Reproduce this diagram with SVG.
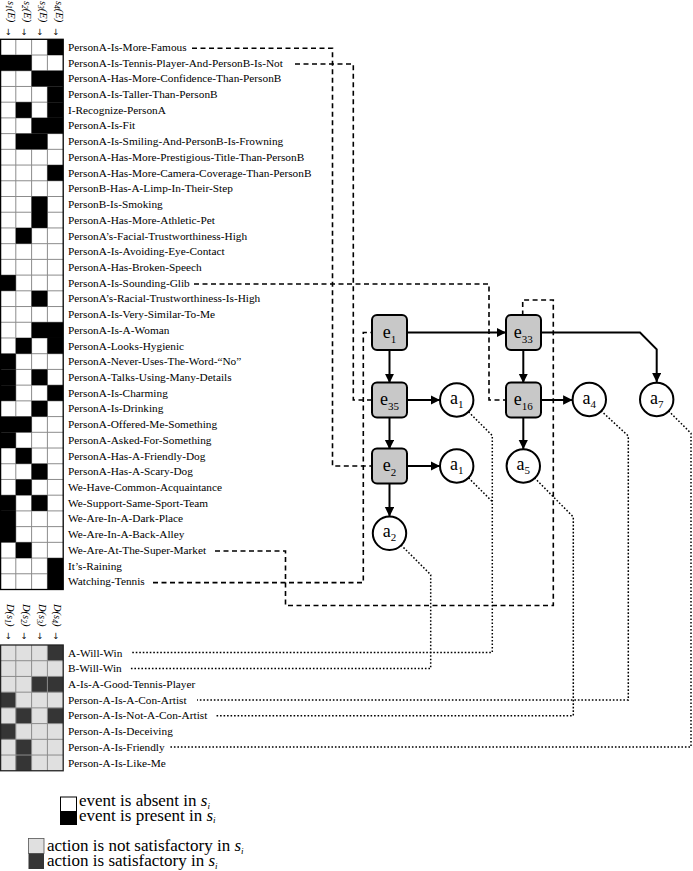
<svg xmlns="http://www.w3.org/2000/svg" width="693" height="871" viewBox="0 0 693 871">
<style>
.lbl{font-family:"Liberation Serif","DejaVu Serif",serif;font-size:11.3px;fill:#000}
.hdr{font-family:"Liberation Serif","DejaVu Serif",serif;font-size:10.5px;font-style:italic;fill:#000}
.harr{font-family:"DejaVu Sans","Liberation Sans",sans-serif;font-size:8.5px;fill:#000;text-anchor:middle}
.sb{font-size:7.5px}
.leg{font-family:"Liberation Serif","DejaVu Serif",serif;font-size:17px;fill:#000}
.it{font-style:italic}
.lsub{font-size:9px;font-style:italic}
.dash{fill:none;stroke:#000;stroke-width:1.6;stroke-dasharray:5 3.5}
.dot{fill:none;stroke:#000;stroke-width:1.5;stroke-dasharray:1.6 1.9}
.arr{fill:none;stroke:#000;stroke-width:2;marker-end:url(#ah)}
.ev rect{fill:#c8c8c8;stroke:#000;stroke-width:2}
.ac circle{fill:#fff;stroke:#000;stroke-width:2}
.nl{font-family:"Liberation Serif","DejaVu Serif",serif;font-size:18px;text-anchor:middle;fill:#000}
.ns{font-size:11px}
.blk{fill:#000}
.drk{fill:#353535}
.gl{stroke:#8c8c8c;stroke-width:1;fill:none}
</style>
<defs>
<marker id="ah" markerUnits="userSpaceOnUse" markerWidth="11" markerHeight="11" refX="9.5" refY="4.7" orient="auto">
<path d="M0,0 L9.5,4.7 L0,9.4 z" fill="#000"/>
</marker>
</defs>

<!-- top headers -->
<g id="top-headers">
<text class="hdr" transform="translate(8.4,1) rotate(90)">s<tspan class="sb" dy="2">1</tspan><tspan dy="-2">(E)</tspan></text>
<text class="hdr" transform="translate(24.2,1) rotate(90)">s<tspan class="sb" dy="2">2</tspan><tspan dy="-2">(E)</tspan></text>
<text class="hdr" transform="translate(40,1) rotate(90)">s<tspan class="sb" dy="2">3</tspan><tspan dy="-2">(E)</tspan></text>
<text class="hdr" transform="translate(55.8,1) rotate(90)">s<tspan class="sb" dy="2">4</tspan><tspan dy="-2">(E)</tspan></text>
<text class="harr" x="8.3" y="35">↓</text>
<text class="harr" x="24.1" y="35">↓</text>
<text class="harr" x="39.9" y="35">↓</text>
<text class="harr" x="55.7" y="35">↓</text>
</g>

<!-- top grid -->
<g id="event-grid">
<rect x="0" y="39.3" width="63.2" height="550.2" fill="#fff"/>
<path class="gl" d="M15.8,39.3V589.5M31.6,39.3V589.5M47.4,39.3V589.5
M0,55.02H63.2M0,70.74H63.2M0,86.46H63.2M0,102.18H63.2M0,117.9H63.2M0,133.62H63.2M0,149.34H63.2M0,165.06H63.2M0,180.78H63.2M0,196.5H63.2M0,212.22H63.2M0,227.94H63.2M0,243.66H63.2M0,259.38H63.2M0,275.1H63.2M0,290.82H63.2M0,306.54H63.2M0,322.26H63.2M0,337.98H63.2M0,353.7H63.2M0,369.42H63.2M0,385.14H63.2M0,400.86H63.2M0,416.58H63.2M0,432.3H63.2M0,448.02H63.2M0,463.74H63.2M0,479.46H63.2M0,495.18H63.2M0,510.9H63.2M0,526.62H63.2M0,542.34H63.2M0,558.06H63.2M0,573.78H63.2"/>
<g class="blk">
<rect x="47.4" y="39.3" width="15.8" height="15.72"/>
<rect x="0" y="55.02" width="31.6" height="15.72"/>
<rect x="31.6" y="70.74" width="31.6" height="15.72"/>
<rect x="47.4" y="86.46" width="15.8" height="15.72"/>
<rect x="15.8" y="102.18" width="15.8" height="15.72"/>
<rect x="47.4" y="102.18" width="15.8" height="15.72"/>
<rect x="31.6" y="117.9" width="31.6" height="15.72"/>
<rect x="15.8" y="133.62" width="31.6" height="15.72"/>
<rect x="47.4" y="165.06" width="15.8" height="15.72"/>
<rect x="31.6" y="196.5" width="15.8" height="31.44"/>
<rect x="15.8" y="227.94" width="15.8" height="15.72"/>
<rect x="0" y="275.1" width="15.8" height="15.72"/>
<rect x="31.6" y="290.82" width="15.8" height="15.72"/>
<rect x="31.6" y="322.26" width="31.6" height="15.72"/>
<rect x="15.8" y="337.98" width="15.8" height="15.72"/>
<rect x="47.4" y="337.98" width="15.8" height="15.72"/>
<rect x="0" y="353.7" width="15.8" height="15.72"/>
<rect x="0" y="369.42" width="15.8" height="15.72"/>
<rect x="31.6" y="369.42" width="15.8" height="15.72"/>
<rect x="0" y="385.14" width="15.8" height="15.72"/>
<rect x="47.4" y="385.14" width="15.8" height="15.72"/>
<rect x="31.6" y="400.86" width="15.8" height="15.72"/>
<rect x="0" y="416.58" width="31.6" height="15.72"/>
<rect x="0" y="432.3" width="15.8" height="15.72"/>
<rect x="15.8" y="448.02" width="15.8" height="15.72"/>
<rect x="31.6" y="463.74" width="15.8" height="15.72"/>
<rect x="15.8" y="479.46" width="15.8" height="15.72"/>
<rect x="0" y="495.18" width="15.8" height="15.72"/>
<rect x="31.6" y="495.18" width="15.8" height="15.72"/>
<rect x="0" y="510.9" width="15.8" height="31.44"/>
<rect x="15.8" y="542.34" width="15.8" height="15.72"/>
<rect x="47.4" y="558.06" width="15.8" height="31.44"/>
</g>
<rect x="0.6" y="39.3" width="62.6" height="550.2" fill="none" stroke="#000" stroke-width="1.3"/>
</g>

<!-- event labels -->
<g id="event-labels" class="lbl">
<text x="68" y="50.86">PersonA-Is-More-Famous</text>
<text x="68" y="66.58">PersonA-Is-Tennis-Player-And-PersonB-Is-Not</text>
<text x="68" y="82.3">PersonA-Has-More-Confidence-Than-PersonB</text>
<text x="68" y="98.02">PersonA-Is-Taller-Than-PersonB</text>
<text x="68" y="113.74">I-Recognize-PersonA</text>
<text x="68" y="129.46">PersonA-Is-Fit</text>
<text x="68" y="145.18">PersonA-Is-Smiling-And-PersonB-Is-Frowning</text>
<text x="68" y="160.9">PersonA-Has-More-Prestigious-Title-Than-PersonB</text>
<text x="68" y="176.62">PersonA-Has-More-Camera-Coverage-Than-PersonB</text>
<text x="68" y="192.34">PersonB-Has-A-Limp-In-Their-Step</text>
<text x="68" y="208.06">PersonB-Is-Smoking</text>
<text x="68" y="223.78">PersonA-Has-More-Athletic-Pet</text>
<text x="68" y="239.5">PersonA’s-Facial-Trustworthiness-High</text>
<text x="68" y="255.22">PersonA-Is-Avoiding-Eye-Contact</text>
<text x="68" y="270.94">PersonA-Has-Broken-Speech</text>
<text x="68" y="286.66">PersonA-Is-Sounding-Glib</text>
<text x="68" y="302.38">PersonA’s-Racial-Trustworthiness-Is-High</text>
<text x="68" y="318.1">PersonA-Is-Very-Similar-To-Me</text>
<text x="68" y="333.82">PersonA-Is-A-Woman</text>
<text x="68" y="349.54">PersonA-Looks-Hygienic</text>
<text x="68" y="365.26">PersonA-Never-Uses-The-Word-“No”</text>
<text x="68" y="380.98">PersonA-Talks-Using-Many-Details</text>
<text x="68" y="396.7">PersonA-Is-Charming</text>
<text x="68" y="412.42">PersonA-Is-Drinking</text>
<text x="68" y="428.14">PersonA-Offered-Me-Something</text>
<text x="68" y="443.86">PersonA-Asked-For-Something</text>
<text x="68" y="459.58">PersonA-Has-A-Friendly-Dog</text>
<text x="68" y="475.3">PersonA-Has-A-Scary-Dog</text>
<text x="68" y="491.02">We-Have-Common-Acquaintance</text>
<text x="68" y="506.74">We-Support-Same-Sport-Team</text>
<text x="68" y="522.46">We-Are-In-A-Dark-Place</text>
<text x="68" y="538.18">We-Are-In-A-Back-Alley</text>
<text x="68" y="553.9">We-Are-At-The-Super-Market</text>
<text x="68" y="569.62">It’s-Raining</text>
<text x="68" y="585.34">Watching-Tennis</text>
</g>

<!-- bottom headers -->
<g id="bottom-headers">
<text class="hdr" transform="translate(6.9,604) rotate(90)">D(s<tspan class="sb" dy="2">1</tspan><tspan dy="-2">)</tspan></text>
<text class="hdr" transform="translate(22.7,604) rotate(90)">D(s<tspan class="sb" dy="2">2</tspan><tspan dy="-2">)</tspan></text>
<text class="hdr" transform="translate(38.5,604) rotate(90)">D(s<tspan class="sb" dy="2">3</tspan><tspan dy="-2">)</tspan></text>
<text class="hdr" transform="translate(54.3,604) rotate(90)">D(s<tspan class="sb" dy="2">4</tspan><tspan dy="-2">)</tspan></text>
<text class="harr" x="8.3" y="639">↓</text>
<text class="harr" x="24.1" y="639">↓</text>
<text class="harr" x="39.9" y="639">↓</text>
<text class="harr" x="55.7" y="639">↓</text>
</g>

<!-- bottom grid -->
<g id="action-grid">
<rect x="0" y="645" width="63.2" height="125.76" fill="#e0e0e0"/>
<g class="drk">
<rect x="47.4" y="645" width="15.8" height="15.72"/>
<rect x="31.6" y="676.44" width="31.6" height="15.72"/>
<rect x="0" y="692.16" width="15.8" height="15.72"/>
<rect x="15.8" y="707.88" width="15.8" height="15.72"/>
<rect x="47.4" y="707.88" width="15.8" height="15.72"/>
<rect x="0" y="723.6" width="15.8" height="15.72"/>
<rect x="15.8" y="739.32" width="15.8" height="31.44"/>
</g>
<path class="gl" d="M15.8,645V770.76M31.6,645V770.76M47.4,645V770.76M0,660.72H63.2M0,676.44H63.2M0,692.16H63.2M0,707.88H63.2M0,723.6H63.2M0,739.32H63.2M0,755.04H63.2"/>
<rect x="0.6" y="645" width="62.6" height="125.76" fill="none" stroke="#222" stroke-width="1.3"/>
</g>

<g id="action-labels" class="lbl">
<text x="68" y="656.56">A-Will-Win</text>
<text x="68" y="672.28">B-Will-Win</text>
<text x="68" y="688">A-Is-A-Good-Tennis-Player</text>
<text x="68" y="703.72">Person-A-Is-A-Con-Artist</text>
<text x="68" y="719.44">Person-A-Is-Not-A-Con-Artist</text>
<text x="68" y="735.16">Person-A-Is-Deceiving</text>
<text x="68" y="750.88">Person-A-Is-Friendly</text>
<text x="68" y="766.6">Person-A-Is-Like-Me</text>
</g>

<!-- connectors -->
<g id="connectors">
<path class="dash" d="M192,48.3H332.5V466H372"/>
<path class="dash" d="M295,64H353.3V400H372"/>
<path class="dash" d="M194,284H489V400H506"/>
<path class="dash" d="M215,551H285.5V605.5H553.3V300H522.7V315"/>
<path class="dash" d="M153,582.6H363.3V332.5H372"/>

<path class="dot" d="M468.5,411.8L492.3,435.6V652.5H132"/>
<path class="dot" d="M468.5,477.8L492.3,501.6"/>
<path class="dot" d="M401,545L430.7,574.7V668.5H130"/>
<path class="dot" d="M601,410.8L628.3,436V700H197"/>
<path class="dot" d="M534.5,477.8L573.3,517V715.7H215"/>
<path class="dot" d="M668.5,410.8L691,433.3V747H169"/>

<path class="arr" d="M407,332.5H506"/>
<path class="arr" d="M389.5,350V383"/>
<path class="arr" d="M407,400H440"/>
<path class="arr" d="M389.5,417V449.3"/>
<path class="arr" d="M407,466H440"/>
<path class="arr" d="M389.5,483.3V516.5"/>
<path class="arr" d="M523.3,350V383"/>
<path class="arr" d="M540.7,332.5H640L656.7,349.3V382.3"/>
<path class="arr" d="M540.7,400H572.6"/>
<path class="arr" d="M523.3,417V449.3"/>
</g>

<!-- nodes -->
<g id="e1" class="ev"><rect x="372" y="315" width="35" height="35" rx="5"/><text class="nl" x="389.5" y="337.5">e<tspan class="ns" dy="5">1</tspan></text></g>
<g id="e35" class="ev"><rect x="372" y="382.5" width="35" height="35" rx="5"/><text class="nl" x="389.5" y="405">e<tspan class="ns" dy="5">35</tspan></text></g>
<g id="e2" class="ev"><rect x="372" y="448.5" width="35" height="35" rx="5"/><text class="nl" x="389.5" y="471">e<tspan class="ns" dy="5">2</tspan></text></g>
<g id="e33" class="ev"><rect x="506" y="315" width="35" height="35" rx="5"/><text class="nl" x="523.3" y="337.5">e<tspan class="ns" dy="5">33</tspan></text></g>
<g id="e16" class="ev"><rect x="506" y="382.5" width="35" height="35" rx="5"/><text class="nl" x="523.3" y="405">e<tspan class="ns" dy="5">16</tspan></text></g>
<g id="a1-top" class="ac"><circle cx="456.7" cy="400" r="16.7"/><text class="nl" x="456.7" y="404">a<tspan class="ns" dy="4">1</tspan></text></g>
<g id="a1-bottom" class="ac"><circle cx="456.7" cy="466" r="16.7"/><text class="nl" x="456.7" y="470">a<tspan class="ns" dy="4">1</tspan></text></g>
<g id="a2" class="ac"><circle cx="389.5" cy="533.3" r="16.7"/><text class="nl" x="389.5" y="537.3">a<tspan class="ns" dy="4">2</tspan></text></g>
<g id="a4" class="ac"><circle cx="589.3" cy="399.5" r="16.7"/><text class="nl" x="589.3" y="403.5">a<tspan class="ns" dy="4">4</tspan></text></g>
<g id="a5" class="ac"><circle cx="523.3" cy="466" r="16.7"/><text class="nl" x="523.3" y="470">a<tspan class="ns" dy="4">5</tspan></text></g>
<g id="a7" class="ac"><circle cx="656.7" cy="399.5" r="16.7"/><text class="nl" x="656.7" y="403.5">a<tspan class="ns" dy="4">7</tspan></text></g>

<!-- legend -->
<g id="legend">
<rect x="60.5" y="797" width="16" height="14.5" fill="#fff" stroke="#000" stroke-width="1"/>
<rect x="60" y="811.5" width="17" height="13.5" fill="#000"/>
<text class="leg" x="79" y="806">event is absent in <tspan class="it">s</tspan><tspan class="lsub" dy="2.5">i</tspan></text>
<text class="leg" x="79" y="820.5">event is present in <tspan class="it">s</tspan><tspan class="lsub" dy="2.5">i</tspan></text>
<rect x="28.5" y="838.5" width="15.5" height="15" fill="#e0e0e0" stroke="#555" stroke-width="0.8"/>
<rect x="28.5" y="853.5" width="15.5" height="15.5" fill="#353535"/>
<text class="leg" x="47" y="851">action is not satisfactory in <tspan class="it">s</tspan><tspan class="lsub" dy="2.5">i</tspan></text>
<text class="leg" x="47" y="866">action is satisfactory in <tspan class="it">s</tspan><tspan class="lsub" dy="2.5">i</tspan></text>
</g>
</svg>
